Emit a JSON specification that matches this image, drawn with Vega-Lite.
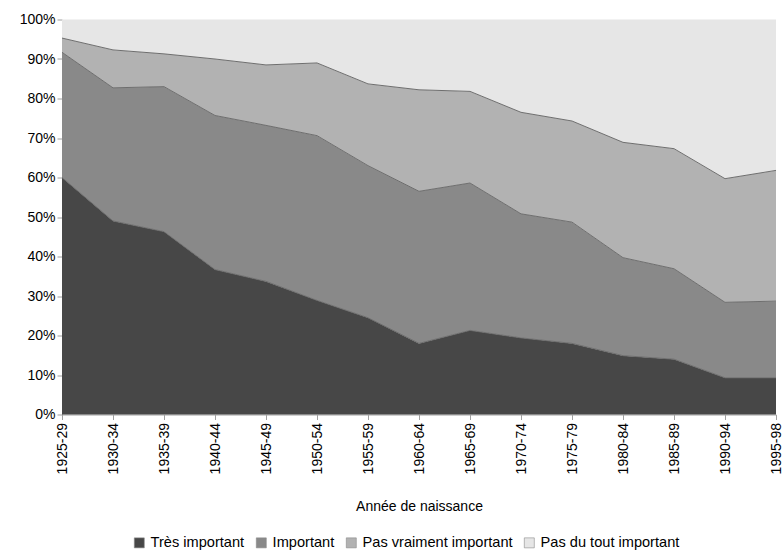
{
  "$schema": "https://vega.github.io/schema/vega-lite/v6.json",
  "autosize": {"type": "none"},
  "width": 714,
  "height": 395,
  "padding": {"left": 62, "top": 19.5, "right": 7, "bottom": 135.5},
  "config": {
    "font": "Liberation Sans",
    "view": {"stroke": null},
    "axis": {"labelFont": "Liberation Sans", "titleFont": "Liberation Sans", "labelColor": "#000000", "titleColor": "#000000", "labelFontSize": 14, "titleFontSize": 14, "titleFontWeight": "normal", "domainColor": "#a0a0a0", "tickColor": "#a0a0a0", "tickSize": 5, "grid": false},
    "legend": {"labelFont": "Liberation Sans", "labelFontSize": 14.6, "labelColor": "#000000"}
  },
  "data": {
    "values": [
      {"periode": "1925-29", "reponse": "Très important", "rang": 1, "part": 60.0},
      {"periode": "1930-34", "reponse": "Très important", "rang": 1, "part": 49.0},
      {"periode": "1935-39", "reponse": "Très important", "rang": 1, "part": 46.3},
      {"periode": "1940-44", "reponse": "Très important", "rang": 1, "part": 36.7},
      {"periode": "1945-49", "reponse": "Très important", "rang": 1, "part": 33.7},
      {"periode": "1950-54", "reponse": "Très important", "rang": 1, "part": 28.9},
      {"periode": "1955-59", "reponse": "Très important", "rang": 1, "part": 24.5},
      {"periode": "1960-64", "reponse": "Très important", "rang": 1, "part": 18.0},
      {"periode": "1965-69", "reponse": "Très important", "rang": 1, "part": 21.3},
      {"periode": "1970-74", "reponse": "Très important", "rang": 1, "part": 19.4},
      {"periode": "1975-79", "reponse": "Très important", "rang": 1, "part": 18.0},
      {"periode": "1980-84", "reponse": "Très important", "rang": 1, "part": 14.9},
      {"periode": "1985-89", "reponse": "Très important", "rang": 1, "part": 14.0},
      {"periode": "1990-94", "reponse": "Très important", "rang": 1, "part": 9.3},
      {"periode": "1995-98", "reponse": "Très important", "rang": 1, "part": 9.3},
      {"periode": "1925-29", "reponse": "Important", "rang": 2, "part": 31.7},
      {"periode": "1930-34", "reponse": "Important", "rang": 2, "part": 33.7},
      {"periode": "1935-39", "reponse": "Important", "rang": 2, "part": 36.7},
      {"periode": "1940-44", "reponse": "Important", "rang": 2, "part": 39.0},
      {"periode": "1945-49", "reponse": "Important", "rang": 2, "part": 39.5},
      {"periode": "1950-54", "reponse": "Important", "rang": 2, "part": 41.7},
      {"periode": "1955-59", "reponse": "Important", "rang": 2, "part": 38.5},
      {"periode": "1960-64", "reponse": "Important", "rang": 2, "part": 38.5},
      {"periode": "1965-69", "reponse": "Important", "rang": 2, "part": 37.3},
      {"periode": "1970-74", "reponse": "Important", "rang": 2, "part": 31.4},
      {"periode": "1975-79", "reponse": "Important", "rang": 2, "part": 30.7},
      {"periode": "1980-84", "reponse": "Important", "rang": 2, "part": 24.8},
      {"periode": "1985-89", "reponse": "Important", "rang": 2, "part": 22.9},
      {"periode": "1990-94", "reponse": "Important", "rang": 2, "part": 19.1},
      {"periode": "1995-98", "reponse": "Important", "rang": 2, "part": 19.4},
      {"periode": "1925-29", "reponse": "Pas vraiment important", "rang": 3, "part": 3.6},
      {"periode": "1930-34", "reponse": "Pas vraiment important", "rang": 3, "part": 9.6},
      {"periode": "1935-39", "reponse": "Pas vraiment important", "rang": 3, "part": 8.3},
      {"periode": "1940-44", "reponse": "Pas vraiment important", "rang": 3, "part": 14.3},
      {"periode": "1945-49", "reponse": "Pas vraiment important", "rang": 3, "part": 15.3},
      {"periode": "1950-54", "reponse": "Pas vraiment important", "rang": 3, "part": 18.4},
      {"periode": "1955-59", "reponse": "Pas vraiment important", "rang": 3, "part": 20.7},
      {"periode": "1960-64", "reponse": "Pas vraiment important", "rang": 3, "part": 25.7},
      {"periode": "1965-69", "reponse": "Pas vraiment important", "rang": 3, "part": 23.2},
      {"periode": "1970-74", "reponse": "Pas vraiment important", "rang": 3, "part": 25.7},
      {"periode": "1975-79", "reponse": "Pas vraiment important", "rang": 3, "part": 25.6},
      {"periode": "1980-84", "reponse": "Pas vraiment important", "rang": 3, "part": 29.2},
      {"periode": "1985-89", "reponse": "Pas vraiment important", "rang": 3, "part": 30.4},
      {"periode": "1990-94", "reponse": "Pas vraiment important", "rang": 3, "part": 31.3},
      {"periode": "1995-98", "reponse": "Pas vraiment important", "rang": 3, "part": 33.1},
      {"periode": "1925-29", "reponse": "Pas du tout important", "rang": 4, "part": 4.7},
      {"periode": "1930-34", "reponse": "Pas du tout important", "rang": 4, "part": 7.7},
      {"periode": "1935-39", "reponse": "Pas du tout important", "rang": 4, "part": 8.7},
      {"periode": "1940-44", "reponse": "Pas du tout important", "rang": 4, "part": 10.0},
      {"periode": "1945-49", "reponse": "Pas du tout important", "rang": 4, "part": 11.5},
      {"periode": "1950-54", "reponse": "Pas du tout important", "rang": 4, "part": 11.0},
      {"periode": "1955-59", "reponse": "Pas du tout important", "rang": 4, "part": 16.3},
      {"periode": "1960-64", "reponse": "Pas du tout important", "rang": 4, "part": 17.8},
      {"periode": "1965-69", "reponse": "Pas du tout important", "rang": 4, "part": 18.2},
      {"periode": "1970-74", "reponse": "Pas du tout important", "rang": 4, "part": 23.5},
      {"periode": "1975-79", "reponse": "Pas du tout important", "rang": 4, "part": 25.7},
      {"periode": "1980-84", "reponse": "Pas du tout important", "rang": 4, "part": 31.1},
      {"periode": "1985-89", "reponse": "Pas du tout important", "rang": 4, "part": 32.7},
      {"periode": "1990-94", "reponse": "Pas du tout important", "rang": 4, "part": 40.3},
      {"periode": "1995-98", "reponse": "Pas du tout important", "rang": 4, "part": 38.2}
    ]
  },
  "encoding": {
    "x": {
      "field": "periode", "type": "ordinal",
      "scale": {"type": "point", "padding": 0},
      "axis": {"title": "Année de naissance", "labelAngle": -90, "labelPadding": 3, "titlePadding": 26}
    },
    "y": {
      "field": "part", "type": "quantitative", "stack": "zero",
      "scale": {"domain": [0, 100], "nice": false},
      "axis": {"title": null, "values": [0, 10, 20, 30, 40, 50, 60, 70, 80, 90, 100], "labelExpr": "datum.value + '%'", "labelPadding": 2}
    },
    "order": {"field": "rang", "type": "quantitative", "sort": "ascending"}
  },
  "layer": [
    {
      "mark": {"type": "area", "opacity": 1},
      "encoding": {
        "color": {
          "field": "reponse", "type": "nominal",
          "scale": {"domain": ["Très important", "Important", "Pas vraiment important", "Pas du tout important"], "range": ["#474747", "#898989", "#b2b2b2", "#e6e6e6"]},
          "legend": {"title": null, "orient": "none", "direction": "horizontal", "legendX": 70, "legendY": 516, "symbolType": "square", "symbolSize": 100, "symbolStrokeColor": "#8a8a8a", "symbolStrokeWidth": 0.6, "symbolOpacity": 1, "labelOffset": 4, "columnPadding": 9}
        }
      }
    },
    {
      "transform": [{"filter": "datum.reponse !== 'Pas du tout important'"}],
      "mark": {"type": "line", "color": "#6e6e6e", "strokeWidth": 1},
      "encoding": {"detail": {"field": "reponse", "type": "nominal"}}
    }
  ]
}
